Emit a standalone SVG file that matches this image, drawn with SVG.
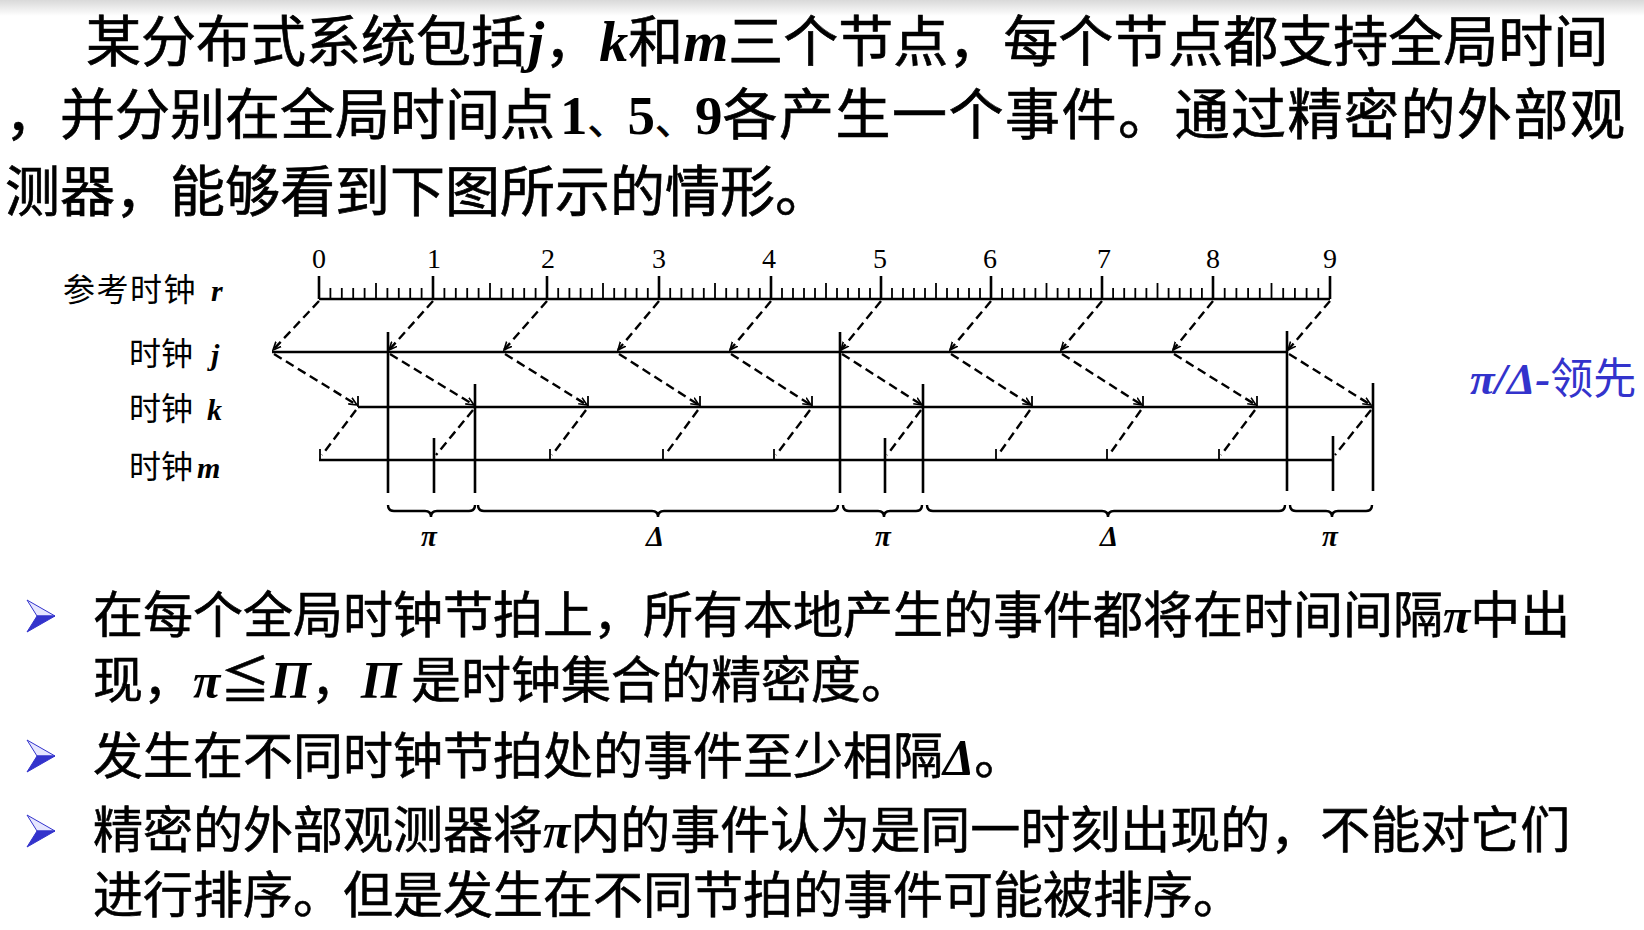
<svg xmlns="http://www.w3.org/2000/svg" width="1644" height="930" viewBox="0 0 1644 930">
<defs>
<style>
.t{font-family:"Noto Sans CJK SC","Noto Sans",sans-serif;fill:#000}
.title{font-size:55px;stroke:#000;stroke-width:0.7px}
.body{font-size:50px;stroke:#000;stroke-width:0.6px}
.lbl{font-size:32px}
.gi{font-family:"Liberation Serif","Times New Roman",serif;font-style:italic;font-weight:bold;stroke:none}
.sb{font-family:"Liberation Serif","Times New Roman",serif;font-weight:bold;stroke:none}
.num{font-family:"Liberation Serif","Times New Roman",serif;font-size:28px;text-anchor:middle;fill:#000}
.ln{stroke:#000;stroke-width:2.6;fill:none}
.tk{stroke:#000;stroke-width:1.8;fill:none}
.ds{stroke:#000;stroke-width:2.4;stroke-dasharray:9 5;fill:none}
.br{stroke:#000;stroke-width:2.4;fill:none}
.glab{font-family:"Liberation Serif","Times New Roman",serif;font-style:italic;font-weight:bold;font-size:29px;text-anchor:middle}
</style>
<linearGradient id="topg" x1="0" y1="0" x2="0" y2="1">
<stop offset="0" stop-color="#d9d9d9"/>
<stop offset="1" stop-color="#ffffff"/>
</linearGradient>
<marker id="ah" viewBox="0 0 10 10" refX="9" refY="5" markerWidth="9" markerHeight="9" markerUnits="userSpaceOnUse" orient="auto">
<path d="M0,1 L9,5 L0,9" fill="none" stroke="#000" stroke-width="1.8"/>
</marker>
<g id="bulletShape">
<polygon points="27,600 55,616 37,616" fill="#e6e6ff" stroke="#3333cc" stroke-width="1"/>
<polygon points="37,616 55,616 27,632" fill="#3333cc" stroke="#3333cc" stroke-width="1"/>
</g>
</defs>
<rect width="1644" height="930" fill="#ffffff"/>
<rect width="1644" height="16" fill="url(#topg)"/>

<g id="title">
<text class="t title" y="61"><tspan x="86">某分布式系统包括</tspan><tspan x="528" class="gi" font-size="58">j</tspan><tspan>，</tspan><tspan class="gi" font-size="58">k</tspan><tspan>和</tspan><tspan class="gi" font-size="58">m</tspan><tspan>三个节点，每个节点都支持全局时间</tspan></text>
<text class="t title" y="134"><tspan x="5">，并分别在全局时间点</tspan><tspan x="560" class="sb">1</tspan><tspan font-size="40">、</tspan><tspan class="sb">5</tspan><tspan font-size="40">、</tspan><tspan class="sb">9</tspan><tspan letter-spacing="1.5">各产生一个事件。通过精密的外部观</tspan></text>
<text class="t title" x="5" y="211">测器，能够看到下图所示的情形。</text>
</g>

<g id="clock-labels">
<text class="t lbl" x="63" y="301" letter-spacing="1.5">参考时钟</text><text class="gi" x="211" y="301" font-size="30">r</text>
<text class="t lbl" x="129" y="365">时钟</text><text class="gi" x="211" y="365" font-size="30">j</text>
<text class="t lbl" x="129" y="420">时钟</text><text class="gi" x="207" y="420" font-size="30">k</text>
<text class="t lbl" x="129" y="478">时钟</text><text class="gi" x="197" y="478" font-size="30">m</text>
</g>

<g id="ref-clock">
<path class="ln" d="M319,299 H1330"/>
<path class="ln" d="M319,299 V276 M433,299 V276 M547,299 V276 M659,299 V276 M771,299 V276 M881,299 V276 M991,299 V276 M1102,299 V276 M1213,299 V276 M1330,299 V276"/>
<path class="tk" d="M376,299 V283 M490,299 V283 M603,299 V283 M715,299 V283 M826,299 V283 M936,299 V283 M1046.5,299 V283 M1157.5,299 V283 M1271.5,299 V283"/>
<path class="tk" d="M330.4,299V288M341.8,299V288M353.2,299V288M364.6,299V288M387.4,299V288M398.8,299V288M410.2,299V288M421.6,299V288
M444.4,299V288M455.8,299V288M467.2,299V288M478.6,299V288M501.4,299V288M512.8,299V288M524.2,299V288M535.6,299V288
M558.2,299V288M569.4,299V288M580.6,299V288M591.8,299V288M614.2,299V288M625.4,299V288M636.6,299V288M647.8,299V288
M670.2,299V288M681.4,299V288M692.6,299V288M703.8,299V288M726.2,299V288M737.4,299V288M748.6,299V288M759.8,299V288
M782,299V288M793,299V288M804,299V288M815,299V288M837,299V288M848,299V288M859,299V288M870,299V288
M892,299V288M903,299V288M914,299V288M925,299V288M947,299V288M958,299V288M969,299V288M980,299V288
M1002.1,299V288M1013.2,299V288M1024.3,299V288M1035.4,299V288M1057.6,299V288M1068.7,299V288M1079.8,299V288M1090.9,299V288
M1113.1,299V288M1124.2,299V288M1135.3,299V288M1146.4,299V288M1168.6,299V288M1179.7,299V288M1190.8,299V288M1201.9,299V288
M1224.7,299V288M1236.4,299V288M1248.1,299V288M1259.8,299V288M1283.2,299V288M1294.9,299V288M1306.6,299V288M1318.3,299V288"/>
<text class="num" x="319" y="268">0</text>
<text class="num" x="434" y="268">1</text>
<text class="num" x="548" y="268">2</text>
<text class="num" x="659" y="268">3</text>
<text class="num" x="769" y="268">4</text>
<text class="num" x="880" y="268">5</text>
<text class="num" x="990" y="268">6</text>
<text class="num" x="1104" y="268">7</text>
<text class="num" x="1213" y="268">8</text>
<text class="num" x="1330" y="268">9</text>
</g>

<g id="clock-j">
<path class="ln" d="M272,352 H1287"/>
</g>
<g id="clock-k">
<path class="ln" d="M358,407 H1373"/>
<path class="tk" d="M358,407V396 M588,407V396 M700,407V396 M812,407V396 M1032,407V396 M1143,407V396 M1257,407V396"/>
</g>
<g id="clock-m">
<path class="ln" d="M319,460 H1333"/>
<path class="tk" d="M320,460V449 M550,460V449 M663,460V449 M774,460V449 M996,460V449 M1107,460V449 M1219,460V449"/>
</g>

<g id="events">
<path class="ln" d="M388,332 V493 M840,332 V493 M1287,331 V491"/>
<path class="ln" d="M434,438 V493 M885,438 V493 M1333,436 V491"/>
<path class="ln" d="M475,384 V493 M923,384 V493 M1373,383 V491"/>
</g>

<g id="connectors">
<g marker-end="url(#ah)">
<path class="ds" d="M319,301 L273,350"/>
<path class="ds" d="M433,301 L389,350"/>
<path class="ds" d="M547,301 L504,350"/>
<path class="ds" d="M659,301 L618,350"/>
<path class="ds" d="M771,301 L730,350"/>
<path class="ds" d="M881,301 L841,350"/>
<path class="ds" d="M991,301 L950,350"/>
<path class="ds" d="M1102,301 L1061,350"/>
<path class="ds" d="M1213,301 L1173,350"/>
<path class="ds" d="M1330,301 L1288,350"/>
<path class="ds" d="M274,354 L357,405"/>
<path class="ds" d="M390,354 L474,405"/>
<path class="ds" d="M505,354 L587,405"/>
<path class="ds" d="M619,354 L699,405"/>
<path class="ds" d="M731,354 L811,405"/>
<path class="ds" d="M842,354 L922,405"/>
<path class="ds" d="M951,354 L1031,405"/>
<path class="ds" d="M1062,354 L1142,405"/>
<path class="ds" d="M1174,354 L1256,405"/>
<path class="ds" d="M1289,354 L1371,405"/>
</g>
<path class="ds" d="M356,410 L322,455"/>
<path class="ds" d="M473,410 L436,455"/>
<path class="ds" d="M586,410 L552,455"/>
<path class="ds" d="M698,410 L665,455"/>
<path class="ds" d="M810,410 L776,455"/>
<path class="ds" d="M921,410 L887,455"/>
<path class="ds" d="M1030,410 L998,455"/>
<path class="ds" d="M1141,410 L1109,455"/>
<path class="ds" d="M1255,410 L1221,455"/>
<path class="ds" d="M1371,410 L1335,455"/>
</g>

<g id="braces">
<path class="br" d="M388,505 Q388,511 394,511 H425 Q431,511 431,517 Q431,511 437,511 H469 Q475,511 475,505"/>
<path class="br" d="M478,505 Q478,511 484,511 H652 Q658,511 658,517 Q658,511 664,511 H832 Q838,511 838,505"/>
<path class="br" d="M843,505 Q843,511 849,511 H878 Q884,511 884,517 Q884,511 890,511 H916 Q922,511 922,505"/>
<path class="br" d="M927,505 Q927,511 933,511 H1102 Q1108,511 1108,517 Q1108,511 1114,511 H1279 Q1285,511 1285,505"/>
<path class="br" d="M1290,505 Q1290,511 1296,511 H1326 Q1332,511 1332,517 Q1332,511 1338,511 H1366 Q1372,511 1372,505"/>
<text class="glab" x="429" y="546">π</text>
<text class="glab" x="655" y="546">Δ</text>
<text class="glab" x="883" y="546">π</text>
<text class="glab" x="1109" y="546">Δ</text>
<text class="glab" x="1330" y="546">π</text>
</g>

<g id="legend" fill="#3333cc">
<text x="1470" y="394"><tspan class="gi" font-size="45">π/Δ-</tspan><tspan font-family="Noto Sans CJK SC, sans-serif" font-size="43">领先</tspan></text>
</g>

<g id="bullets">
<use href="#bulletShape"/>
<use href="#bulletShape" y="140"/>
<use href="#bulletShape" y="215"/>
<text class="t body" y="633"><tspan x="93">在每个全局时钟节拍上，所有本地产生的事件都将在时间间隔</tspan><tspan class="gi">π</tspan><tspan>中出</tspan></text>
<text class="t body" y="698"><tspan x="93">现，</tspan><tspan x="193" class="gi">π</tspan><tspan>≦</tspan><tspan class="gi" font-size="52">Π</tspan><tspan>，</tspan><tspan class="gi" font-size="52">Π</tspan><tspan x="411">是时钟集合的精密度。</tspan></text>
<text class="t body" x="93" y="774">发生在不同时钟节拍处的事件至少相隔<tspan class="gi">Δ</tspan>。</text>
<text class="t body" x="93" y="848">精密的外部观测器将<tspan class="gi">π</tspan>内的事件认为是同一时刻出现的，不能对它们</text>
<text class="t body" x="93" y="913">进行排序。但是发生在不同节拍的事件可能被排序。</text>
</g>
</svg>
